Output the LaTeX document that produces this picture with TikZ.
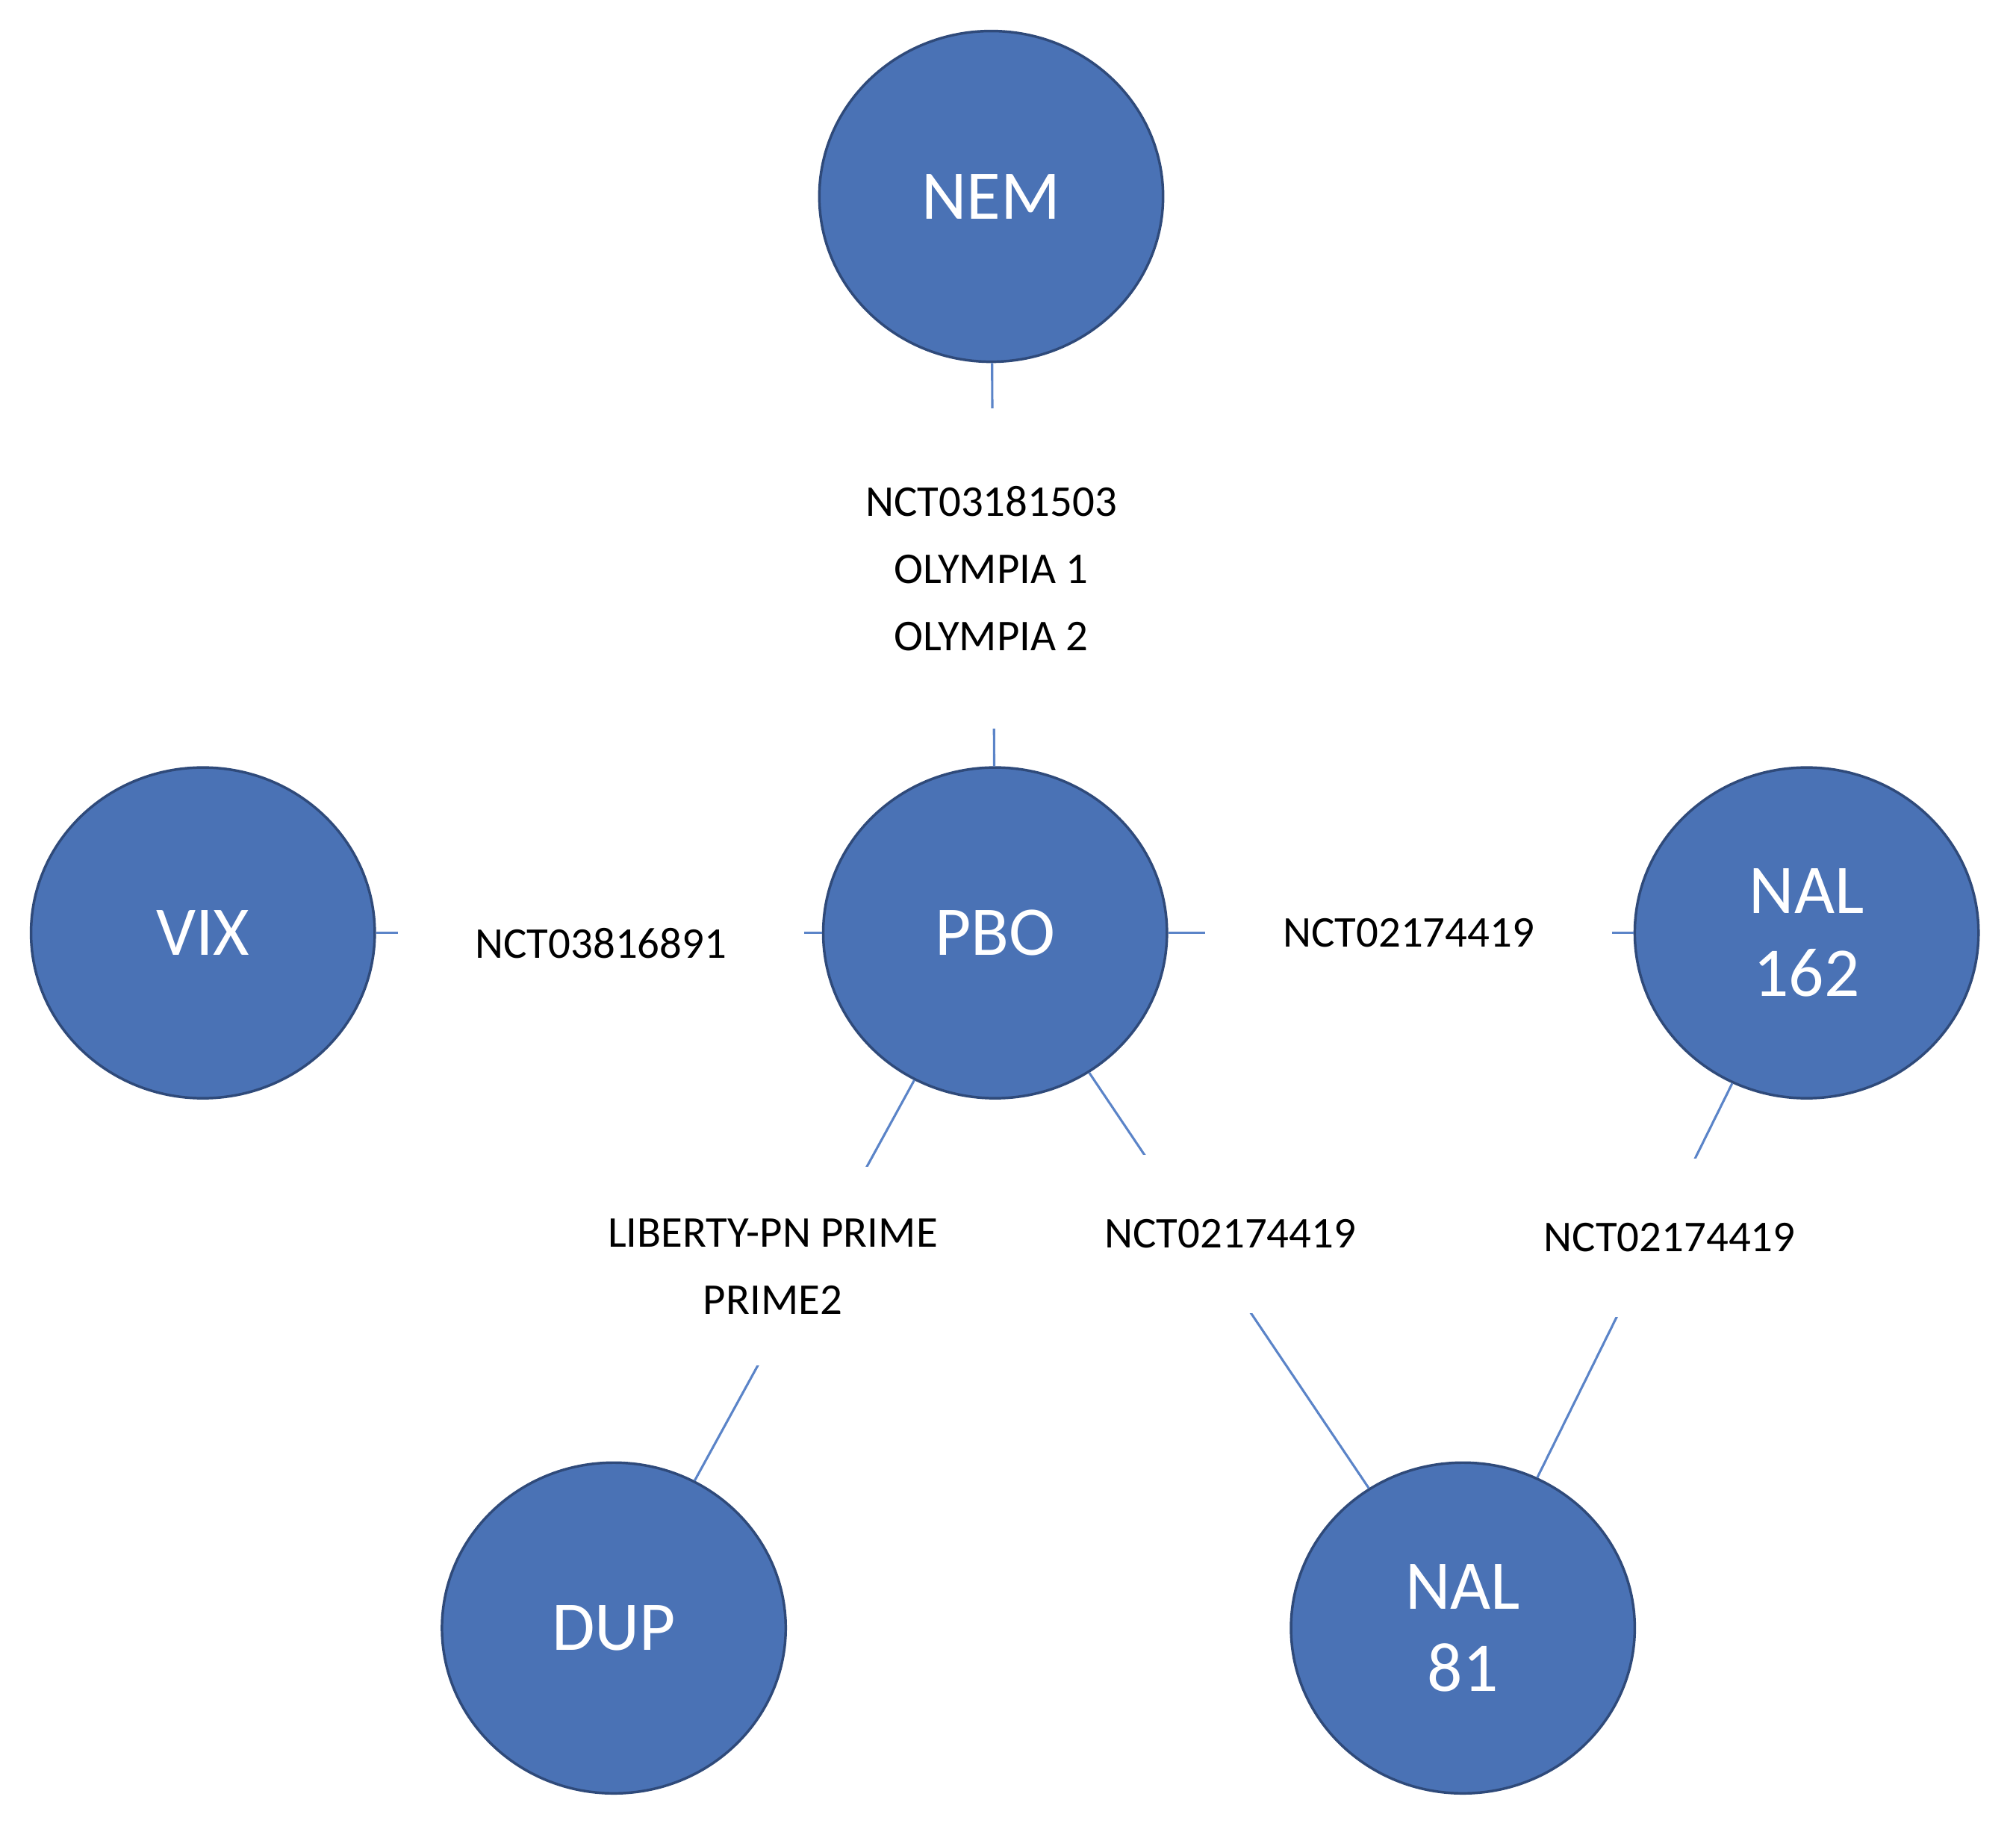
\documentclass[tikz,border=0pt]{standalone}
\usepackage{fontspec}
\setmainfont{Carlito}
\usetikzlibrary{shapes.geometric}
\definecolor{nfill}{HTML}{4A72B5}
\definecolor{nline}{HTML}{2F4A7A}
\definecolor{eline}{HTML}{5B84C8}
\begin{document}
\begin{tikzpicture}[x=0.5pt,y=-0.5pt,
  circ/.style={ellipse,fill=nfill,draw=nline,line width=1pt,minimum width=133pt,minimum height=128pt,text=white,font=\fontsize{27}{32}\selectfont,align=center,inner sep=0pt},
  lab/.style={fill=white,font=\fontsize{17}{26}\selectfont,align=center,inner sep=5pt},
  edge/.style={draw=eline,line width=0.9pt}]
\useasboundingbox (0,0) rectangle (1560,1413);
\node[circ] (nem) at (767,152) {NEM};
\node[circ] (pbo) at (770,722) {PBO};
\node[circ] (vix) at (157,722) {VIX};
\node[circ] (n162) at (1398,722) {NAL\\162};
\node[circ] (dup) at (475,1260) {DUP};
\node[circ] (n81) at (1132,1260) {NAL\\81};
\draw[edge] (nem) -- (pbo);
\draw[edge] (vix) -- (pbo);
\draw[edge] (pbo) -- (n162);
\draw[edge] (pbo) -- (dup);
\draw[edge] (pbo) -- (n81);
\draw[edge] (n162) -- (n81);
\node[lab,inner ysep=30pt] (l1) at (767,440) {NCT03181503\\OLYMPIA 1\\OLYMPIA 2};
\node[lab,inner xsep=30pt] (l2) at (465,730) {NCT03816891};
\node[lab,inner xsep=30pt] (l3) at (1090,722) {NCT02174419};
\node[lab,inner ysep=20pt] (l4) at (598,980) {LIBERTY-PN PRIME\\PRIME2};
\node[lab,inner ysep=25pt] (l5) at (952,955) {NCT02174419};
\node[lab,inner ysep=25pt] (l6) at (1292,958) {NCT02174419};
\end{tikzpicture}
\end{document}
